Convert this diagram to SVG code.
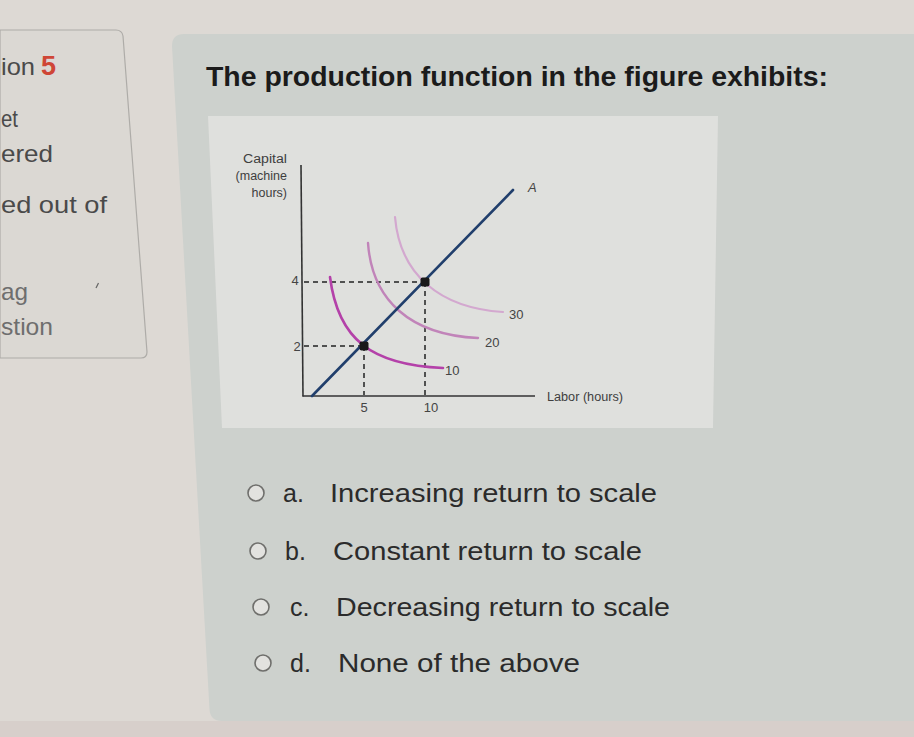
<svg xmlns="http://www.w3.org/2000/svg" width="914" height="737" viewBox="0 0 914 737">
<style>
.side{font-family:"Liberation Sans",Arial,sans-serif;font-size:24px;fill:#4a4a4a}
.sidel{font-family:"Liberation Sans",Arial,sans-serif;font-size:24px;fill:#6e6e6e}
.title{font-family:"Liberation Sans",Arial,sans-serif;font-size:27px;font-weight:bold;fill:#1b1b1b}
.opt{font-family:"Liberation Sans",Arial,sans-serif;font-size:25px;fill:#2b2b2b}
.radio{fill:#e2e2df;stroke:#6f6f6c;stroke-width:1.6}
.lbl{font-family:"Liberation Sans",Arial,sans-serif;font-size:12.5px;fill:#3e3e3e}
.num{font-family:"Liberation Sans",Arial,sans-serif;font-size:13px;fill:#444}
.axis{stroke:#333;stroke-width:1.6;fill:none}
.dash{stroke:#222;stroke-width:1.5;stroke-dasharray:5 4;fill:none}
.iso{fill:none;stroke-linecap:round}
</style>
<rect x="0" y="0" width="914" height="737" fill="#ddd9d4"/>
<rect x="0" y="721" width="914" height="16" fill="#d7cfcb"/>

<g id="sidebar">
<path d="M0,30 L116,30 Q122,30 123,36 L147,352 Q147,358 141,358 L0,358 Z" fill="#dbd8d3" stroke="#aeaca8" stroke-width="1.2"/>
<text class="side" x="1" y="75" textLength="34" lengthAdjust="spacingAndGlyphs">ion</text>
<text x="41" y="75" font-family="'Liberation Sans',Arial,sans-serif" font-size="27" font-weight="bold" fill="#cf4636">5</text>
<text class="side" x="1" y="127" textLength="17" lengthAdjust="spacingAndGlyphs">et</text>
<text class="side" x="1" y="162" textLength="52" lengthAdjust="spacingAndGlyphs">ered</text>
<text class="side" x="1" y="213" textLength="106" lengthAdjust="spacingAndGlyphs">ed out of</text>
<text class="sidel" x="1" y="300" textLength="27" lengthAdjust="spacingAndGlyphs">ag</text>
<text class="sidel" x="1" y="335" textLength="52" lengthAdjust="spacingAndGlyphs">stion</text>
<line x1="96" y1="288" x2="98.5" y2="283" stroke="#666" stroke-width="1.2"/>
</g>

<g id="card">
<path d="M172,46 Q172,34 184,34 L914,34 L914,721 L222,721 Q210,721 209.5,709 Z" fill="#cdd1cd"/>
<path d="M208,116 L718,116 L713,428 L222,428 Z" fill="#dfe0dd"/>
</g>

<g id="title">
<text class="title" x="206" y="86" textLength="622" lengthAdjust="spacingAndGlyphs">The production function in the figure exhibits:</text>
</g>

<g id="graph">
<g id="axes">
<line class="axis" x1="301" y1="165" x2="303" y2="396.5"/>
<line class="axis" x1="302.5" y1="396" x2="535" y2="396"/>
</g>
<g id="axis-labels">
<text class="lbl" x="287" y="163" text-anchor="end" textLength="44" lengthAdjust="spacingAndGlyphs">Capital</text>
<text class="lbl" x="287" y="180" text-anchor="end">(machine</text>
<text class="lbl" x="287" y="197" text-anchor="end">hours)</text>
<text class="lbl" x="547" y="401" textLength="76" lengthAdjust="spacingAndGlyphs">Labor (hours)</text>
<text class="num" x="295" y="285" text-anchor="middle">4</text>
<text class="num" x="297" y="351" text-anchor="middle">2</text>
<text class="num" x="364" y="412" text-anchor="middle">5</text>
<text class="num" x="431" y="412" text-anchor="middle">10</text>
</g>
<g id="connectors">
<line class="dash" x1="304" y1="282" x2="425" y2="282"/>
<line class="dash" x1="304" y1="346" x2="364" y2="346"/>
<line class="dash" x1="364" y1="346" x2="364" y2="395"/>
<line class="dash" x1="425" y1="282" x2="425" y2="395"/>
</g>
<g id="isoquant-10">
<path class="iso" d="M330,277 C338,340 372,365 443,368" stroke="#b441a9" stroke-width="2.6"/>
<text class="num" x="445" y="375">10</text>
</g>
<g id="isoquant-20">
<path class="iso" d="M368,243 C372,300 410,335 478,338" stroke="#c184b9" stroke-width="2.4"/>
<text class="num" x="485" y="347">20</text>
</g>
<g id="isoquant-30">
<path class="iso" d="M395,217 C400,275 440,308 503,312" stroke="#d3a8cf" stroke-width="2.2"/>
<text class="num" x="509" y="319">30</text>
</g>
<g id="ray-A">
<line x1="312" y1="396" x2="513" y2="190" stroke="#213f6c" stroke-width="2.6" stroke-linecap="round"/>
<text class="num" x="528" y="192" font-style="italic">A</text>
</g>
<g id="point-1">
<rect x="359.5" y="341.5" width="9" height="9" rx="2" fill="#1a1a1a"/>
</g>
<g id="point-2">
<rect x="420.5" y="277.5" width="9" height="9" rx="2" fill="#1a1a1a"/>
</g>
</g>

<g id="option-a">
<circle class="radio" cx="256" cy="493" r="8"/>
<text class="opt" x="283" y="502">a.</text>
<text class="opt" x="330" y="502" textLength="327" lengthAdjust="spacingAndGlyphs">Increasing return to scale</text>
</g>
<g id="option-b">
<circle class="radio" cx="258" cy="551" r="8"/>
<text class="opt" x="285" y="560">b.</text>
<text class="opt" x="333" y="560" textLength="309" lengthAdjust="spacingAndGlyphs">Constant return to scale</text>
</g>
<g id="option-c">
<circle class="radio" cx="261" cy="607" r="8"/>
<text class="opt" x="290" y="616">c.</text>
<text class="opt" x="336" y="616" textLength="334" lengthAdjust="spacingAndGlyphs">Decreasing return to scale</text>
</g>
<g id="option-d">
<circle class="radio" cx="263" cy="663" r="8"/>
<text class="opt" x="290" y="672">d.</text>
<text class="opt" x="338" y="672" textLength="242" lengthAdjust="spacingAndGlyphs">None of the above</text>
</g>
</svg>
